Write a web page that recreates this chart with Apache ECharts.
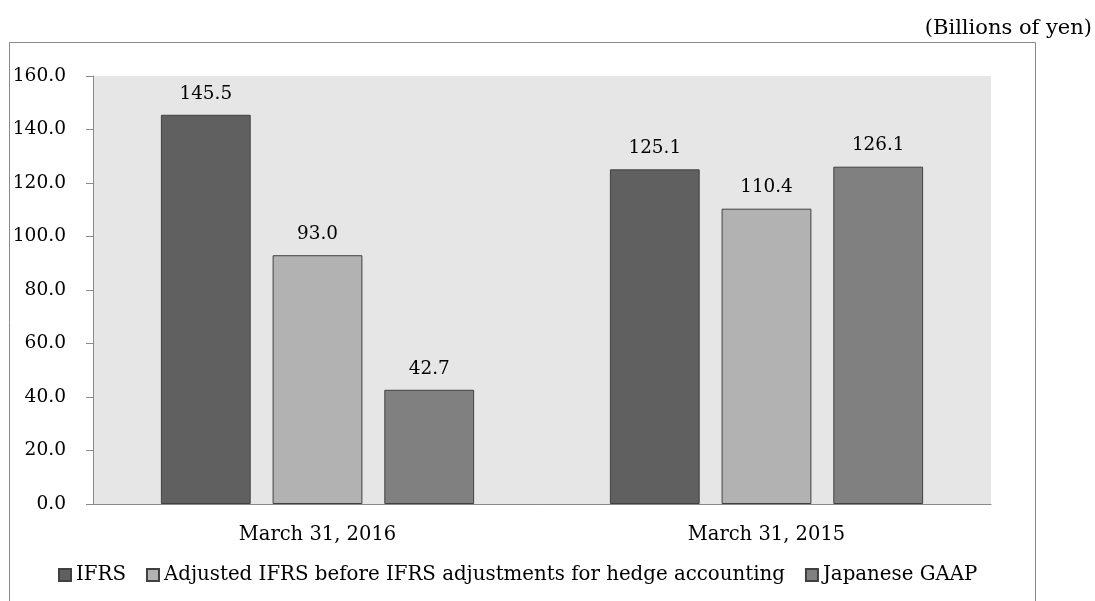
<!DOCTYPE html>
<html><head><meta charset="utf-8">
<script src="https://cdn.jsdelivr.net/npm/echarts@6/dist/echarts.min.js"></script>
<style>html,body{margin:0;padding:0;background:#fff}#c{width:1095px;height:601px}</style>
</head><body><div id="c"></div>
<script>
const categories = ["March 31, 2016", "March 31, 2015"];
const seriesNames = ["IFRS", "Adjusted IFRS before IFRS adjustments for hedge accounting", "Japanese GAAP"];
const ifrs = [145.5, 125.1];
const adjusted = [93.0, 110.4];
const jgaap = [42.7, 126.1];
const yTicks = { min: 0, max: 160, interval: 20 };
const unitLabel = "(Billions of yen)";

const FONT = "DejaVu Serif";
const colors = ["#606060", "#b2b2b2", "#808080"];
const values = [ifrs, adjusted, jgaap];

const chart = echarts.init(document.getElementById('c'), null, { renderer: 'canvas' });
chart.setOption({
  animation: false,
  textStyle: { fontFamily: FONT },
  graphic: [
    { type: 'rect', shape: { x: 9.5, y: 42.5, width: 1026, height: 600 }, style: { fill: 'none', stroke: '#8a8a8a', lineWidth: 1 } },
    { type: 'text', right: 3, top: 18, style: { text: unitLabel, font: '21px "DejaVu Serif"', fill: '#000' } }
  ],
  grid: { left: 93, right: 104, top: 76, bottom: 97, show: true, backgroundColor: '#e6e6e6', borderWidth: 0 },
  legend: {
    left: 58, top: 565, padding: 0, itemWidth: 12, itemHeight: 12, itemGap: 20,
    icon: 'rect',
    textStyle: { fontFamily: FONT, fontSize: 19.8, color: '#000' },
    data: seriesNames
  },
  xAxis: {
    type: 'category', data: categories,
    axisLine: { show: true, lineStyle: { color: '#8a8a8a', width: 1 } },
    axisTick: { show: false },
    axisLabel: { fontFamily: FONT, fontSize: 19.5, color: '#000', margin: 21 }
  },
  yAxis: {
    type: 'value', min: yTicks.min, max: yTicks.max, interval: yTicks.interval,
    axisLine: { show: true, lineStyle: { color: '#8a8a8a', width: 1 } },
    axisTick: { show: true, length: 7, lineStyle: { color: '#8a8a8a' } },
    splitLine: { show: false },
    axisLabel: { fontFamily: FONT, fontSize: 18.6, color: '#000', margin: 27, formatter: v => v.toFixed(1) }
  },
  series: seriesNames.map((n, i) => ({
    name: n, type: 'bar', data: values[i],
    barWidth: '20%', barGap: '24.4%', barCategoryGap: '30%',
    itemStyle: { color: colors[i], borderColor: '#404040', borderWidth: 1 },
    label: { show: true, position: 'top', distance: 12, fontFamily: FONT, fontSize: 18.4, color: '#000', formatter: p => p.value.toFixed(1) }
  }))
});
</script></body></html>
